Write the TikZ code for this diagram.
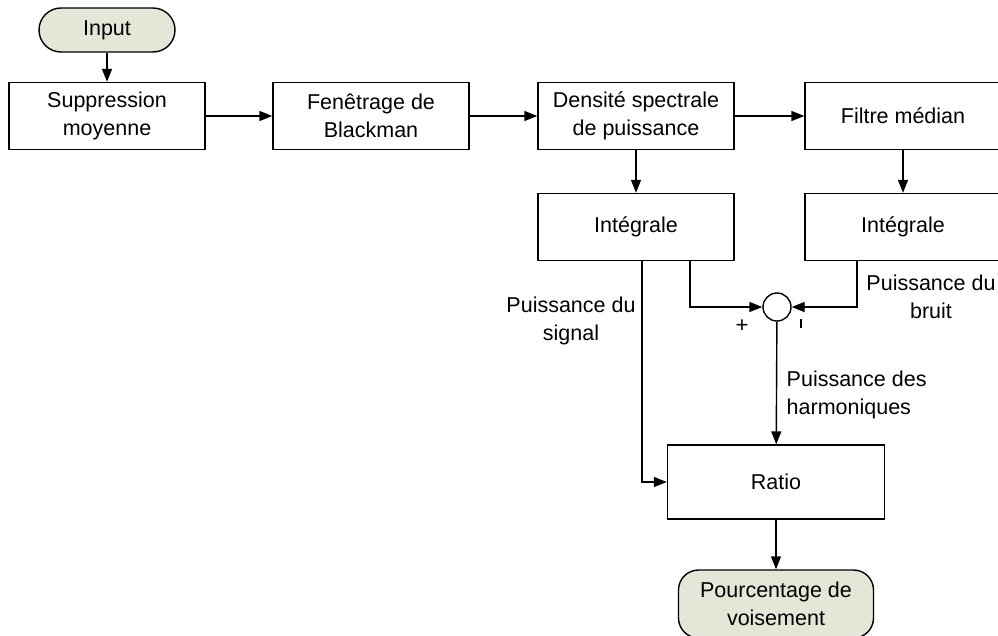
\documentclass[tikz,border=0pt]{standalone}
\usepackage{fontspec}
\setmainfont{Liberation Sans}
\usetikzlibrary{arrows.meta}
\begin{document}
\begin{tikzpicture}[x=1pt,y=-1pt,
  font=\fontsize{21.5}{28}\selectfont,
  line width=1.4pt,
  proc/.style={draw, minimum width=196pt, minimum height=67pt, inner sep=0pt, align=center},
  term/.style={draw, fill=termfill, rounded corners=#1, inner sep=0pt, align=center},
  arr/.style={-{Triangle[length=13pt,width=10pt]}},
  lbl/.style={align=center, inner sep=0pt}]
\definecolor{termfill}{HTML}{E4E7D8}
\useasboundingbox (0,0) rectangle (998,635);
\node[term=22pt, minimum width=136pt, minimum height=44pt] (in) at (107,30) {Input};
\node[proc] (sup) at (107,116) {Suppression\\moyenne};
\node[proc] (fen) at (371,116) {Fenêtrage de\\Blackman};
\node[proc] (dsp) at (636,116) {Densité spectrale\\de puissance};
\node[proc] (fil) at (903,116) {Filtre médian};
\node[proc] (int1) at (636,227) {Intégrale};
\node[proc] (int2) at (903,227) {Intégrale};
\node[draw, circle, minimum size=28pt, inner sep=0pt] (sum) at (777,307) {};
\node[proc, minimum width=217pt, minimum height=74pt] (rat) at (776,482) {Ratio};
\node[term=20pt, minimum width=195pt, minimum height=68pt] (out) at (776,604) {Pourcentage de\\voisement};
\coordinate (c1) at (690,260);
\coordinate (c2) at (857,260);
\coordinate (c3) at (642,260);
\draw[arr] (in) -- (sup);
\draw[arr] (sup) -- (fen);
\draw[arr] (fen) -- (dsp);
\draw[arr] (dsp) -- (fil);
\draw[arr] (dsp) -- (int1);
\draw[arr] (fil) -- (int2);
\draw[arr] (c1) |- (sum.west);
\draw[arr] (c2) |- (sum.east);
\draw[arr] (c3) |- (rat.west);
\draw[arr] (sum) -- (rat);
\draw[arr] (rat) -- (out);
\node[lbl] (ls) at (571,321) {Puissance du\\signal};
\node[lbl] (lb) at (931,297) {Puissance du\\bruit};
\node[lbl, align=left, anchor=west] (lh) at (786,395) {Puissance des\\harmoniques};
\node[inner sep=0pt, font=\fontsize{22}{22}\selectfont] (plus) at (742,326) {+};
\draw[line width=1.2pt] (801,319) -- (801,328);
\end{tikzpicture}
\end{document}
